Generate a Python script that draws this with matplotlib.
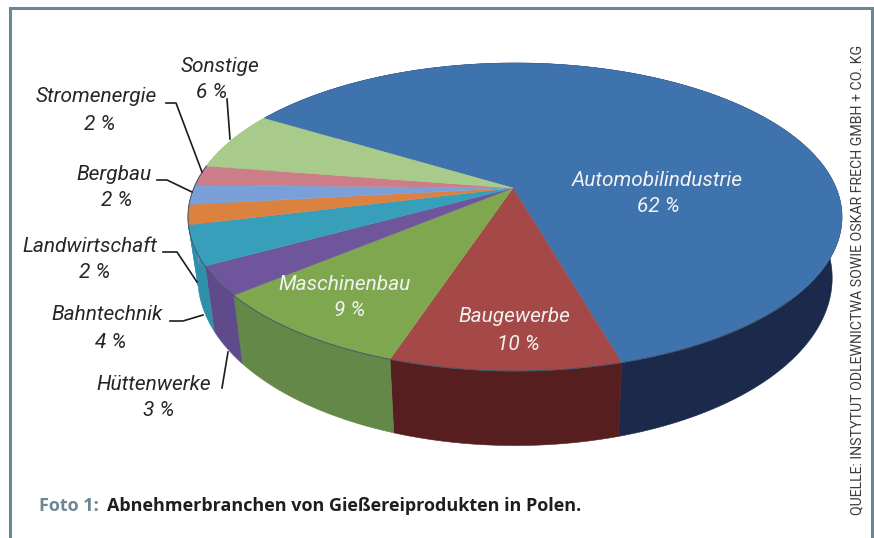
import numpy as np
import matplotlib
matplotlib.use("Agg")
import matplotlib.pyplot as plt

# chart data, clockwise from the top left
branches = ["Automobilindustrie", "Baugewerbe", "Maschinenbau", "Hüttenwerke",
            "Bahntechnik", "Landwirtschaft", "Bergbau", "Stromenergie", "Sonstige"]
shares = [62, 10, 9, 3, 4, 2, 2, 2, 6]

top_colors = ["#3f73ad", "#a44848", "#7fa750", "#6f559b", "#379fba",
              "#dc8240", "#7b9fd8", "#cc7d87", "#a8ca8b"]
# the orange slice only shows a sliver of side, the reference has it teal
side_colors = ["#1b2a4b", "#561e1e", "#638848", "#5f4a8c", "#2f90aa",
               "#2f90aa", "#6a8cc0", "#b06a72", "#92b278"]

caption_head = "Foto 1:"
caption_text = "Abnehmerbranchen von Gießereiprodukten in Polen."
source_text = "QUELLE: INSTYTUT ODLEWNICTWA SOWIE OSKAR FRECH GMBH + CO. KG"

# pie geometry in pixels
apex = (513, 188)
cx, cy, rx, ry = 515, 217, 327, 154
squash = 0.485
start_angle = np.radians(-150)


def makeOutline():
    t = np.linspace(-np.pi, np.pi, 6000, endpoint=False)
    x = cx + rx * np.cos(t)
    y = cy + ry * np.sin(t)
    phi = np.arctan2((y - apex[1]) / squash, x - apex[0])
    order = np.argsort(phi)
    return phi[order], x[order], y[order]


def rimPoints(a, outline):
    phi, x, y = outline
    return (np.interp(a, phi, x, period=2 * np.pi),
            np.interp(a, phi, y, period=2 * np.pi))


def lowerRim(x, y):
    # the lower disc is a little narrower than the upper one
    return cx + (x - cx) * 0.97, cy + 61 + (y - cy) * 1.088


plt.rcParams["font.family"] = "Roboto"

fig = plt.figure(figsize=(8.74, 5.38), dpi=100)
ax = fig.add_axes([0, 0, 1, 1])
ax.set_xlim(0, 874)
ax.set_ylim(538, 0)
ax.axis("off")

frame = "#6c8696"
ax.plot([10, 10, 872, 872], [538, 7.5, 7.5, 538], color=frame, lw=2.2,
        solid_joinstyle="miter")

outline = makeOutline()
edges = start_angle + np.radians(np.cumsum([0] + shares) * 3.6)

# sides first, the top surface covers whatever faces backwards
for i in range(len(shares)):
    a = np.linspace(edges[i], edges[i + 1], 300)
    x, y = rimPoints(a, outline)
    xb, yb = lowerRim(x, y)
    ax.fill(np.r_[x, xb[::-1]], np.r_[y, yb[::-1]], color=side_colors[i], lw=0.4)

for i in range(len(shares)):
    a = np.linspace(edges[i], edges[i + 1], 300)
    x, y = rimPoints(a, outline)
    ax.fill(np.r_[apex[0], x], np.r_[apex[1], y], color=top_colors[i], lw=0.3)

# thin dark edge along the back of the pie
a = np.linspace(edges[-2], edges[0] + np.radians(190), 400)
x, y = rimPoints(a, outline)
ax.plot(x, y, color="#46566b", lw=0.7)

# labels: name centre x, y, percent centre x, y
label_pos = {
    "Automobilindustrie": (657, 180, 658, 206),
    "Baugewerbe": (514, 316, 518, 344),
    "Maschinenbau": (345, 284, 350, 311),
    "Hüttenwerke": (154, 384, 159, 410),
    "Bahntechnik": (107, 315, 111, 342),
    "Landwirtschaft": (90, 246, 95, 272),
    "Bergbau": (114, 174, 117, 201),
    "Stromenergie": (96, 96, 100, 124),
    "Sonstige": (220, 66, 212, 92),
}
white_labels = ["Automobilindustrie", "Baugewerbe", "Maschinenbau"]

for name, share in zip(branches, shares):
    px, py, qx, qy = label_pos[name]
    col = "#f2f2f2" if name in white_labels else "#262626"
    ax.text(px, py, name, color=col, fontsize=15, style="italic",
            ha="center", va="center")
    ax.text(qx, qy, "%d %%" % share, color=col, fontsize=15, style="italic",
            ha="center", va="center")

leaders = [
    ([227, 230], [99, 139]),
    ([166, 176, 202], [103, 103, 172]),
    ([157, 167, 192], [180, 180, 192]),
    ([163, 177, 197], [252, 252, 282]),
    ([170, 183, 203], [321, 321, 315]),
    ([222, 228], [388, 352]),
]
for lx, ly in leaders:
    ax.plot(lx, ly, color="#1c1c1c", lw=1.2)

ax.text(39, 506, caption_head, color=frame, fontsize=13, fontweight="bold",
        family="Open Sans", va="center", ha="left")
ax.text(107, 506, caption_text, color="#1e1e1e", fontsize=13, fontweight="bold",
        family="Open Sans", va="center", ha="left")
ax.text(857, 280, source_text, color="#3c3c3c", fontsize=10.2, rotation=90,
        ha="center", va="center")

fig.savefig("out.png", dpi=100)
